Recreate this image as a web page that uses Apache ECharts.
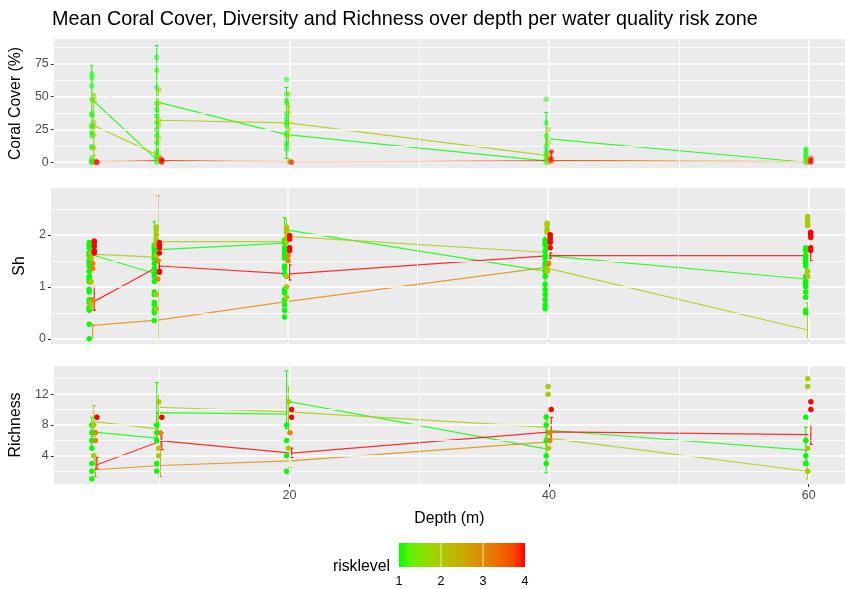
<!DOCTYPE html>
<html><head><meta charset="utf-8">
<script src="https://cdn.jsdelivr.net/npm/echarts@6/dist/echarts.min.js"></script>
<style>html,body{margin:0;padding:0;background:#fff}#c{width:847px;height:589px}</style>
</head><body><div id="c"></div><script>
// ---------------- data ----------------
const depths = [5, 10, 20, 40, 60];
const riskLevels = [1, 2, 3, 4];
const panelTitles = ['Coral Cover (%)', 'Sh', 'Richness'];
const xTicks = [20, 40, 60];
const xMinor = [10, 30, 50];
const coverTicks = [0, 25, 50, 75];
const coverMinor = [12.5, 37.5, 62.5, 87.5];
const shTicks = [0, 1, 2];
const shMinor = [0.5, 1.5, 2.5];
const richTicks = [4, 8, 12];
const richMinor = [2, 6, 10, 14];

// observations per risk level, one list per depth (5,10,20,40,60)
const coverR1 = [[67,64,58,48,37,36,28,27,22,20,12,11,3,1,0,0],[80,70,57,45,40,35,30,25,20,15,8,5,2,0],[63,52,47,45,37,33,30,28,22,20,15,13,10],[48,30,20,12,8,5,2,0],[10,8,6,4,2,0]];
const coverR2 = [[50,47,30,27,21,11,0],[55,45,32,28,18,5,2],[52,42,38,30,25,20],[25,15,5,2,0],[2,1,0]];
const coverR3 = [[1,0],[3,1],[1,0],[2],[1]];
const coverR4 = [[0,0],[2,1,0],[0],[8,3,1],[3,1,0]];

const shR1 = [[1.85,1.8,1.75,1.65,1.6,1.5,1.45,1.4,1.3,1.2,1.15,1.1,0.95,0.9,0.75,0.7,0.6,0.55,0.28,0.0],[1.8,1.75,1.7,1.62,1.55,1.45,1.35,1.25,1.2,1.1,0.9,0.85,0.7,0.65,0.55,0.5,0.35],[1.9,1.85,1.75,1.7,1.65,1.6,1.55,1.4,1.35,1.25,0.95,0.88,0.75,0.65,0.55,0.42],[1.9,1.85,1.8,1.7,1.6,1.55,1.45,1.4,1.3,1.2,1.05,0.95,0.85,0.75,0.65,0.58],[1.75,1.7,1.6,1.55,1.5,1.45,1.4,1.2,1.1,1.05,1.0,0.9,0.8,0.55,0.5]];
const shR2 = [[1.65,1.55,1.1,0.7,0.62],[2.15,2.1,2.0,1.9,1.85,1.8,1.6,0.85,0.58],[2.15,2.1,2.05,1.95,1.85,1.2,1.0,0.8],[2.22,2.18,2.1,2.05,1.35,1.3],[2.35,2.3,2.22,2.18,1.3,1.2]];
const shR3 = [[1.45,1.35,0.75],[1.5,1.15],[1.6,1.5],[1.45],[]];
const shR4 = [[1.88,1.85,1.78,1.7,1.65],[1.85,1.8,1.75,1.65,1.3,1.28],[1.98,1.92,1.75,1.7],[2.0,1.95,1.9,1.85,1.75],[2.05,2.0,1.95,1.75,1.7]];

const richR1 = [[8,7,6,5,3,2,1],[8,7,6,3,2],[8,6,4,2],[9,8,6,4,3],[9,6,4,3,3]];
const richR2 = [[8,4],[11,5,4],[11,5],[13,12,5],[14,13,5,2]];
const richR3 = [[7,6],[7],[7],[7,6],[]];
const richR4 = [[9],[9],[10,9],[10],[11,10]];

// mean-line paths (depth, mean) as drawn, per risk level
const coverLineR1 = [[5,48],[10,2],[10,46],[20,21],[40,1],[40,18],[60,0]];
const coverLineR2 = [[5,28],[10,5],[10,32],[20,30],[40,5],[40,1.5],[60,0.5]];
const coverLineR3 = [[5,0.5],[10,1],[20,0.5],[40,0.5],[60,0.3]];
const coverLineR4 = [[5,0],[10,1],[20,0],[40,1],[60,0]];
const shLineR1 = [[5,1.63],[10,1.26],[10,1.71],[20,1.84],[20,2.1],[40,1.3],[40,1.6],[60,1.15]];
const shLineR2 = [[5,1.63],[10,1.57],[10,1.87],[20,1.87],[20,1.97],[40,1.66],[40,1.36],[60,0.17]];
const shLineR3 = [[5,0.26],[10,0.36],[20,0.72],[40,1.38]];
const shLineR4 = [[5,0.72],[10,1.4],[20,1.25],[40,1.6],[60,1.6]];
const richLineR1 = [[5,7.1],[10,6.3],[10,9.6],[20,9.4],[20,11.1],[40,4.9],[40,7.35],[60,4.75]];
const richLineR2 = [[5,8.45],[10,7.5],[10,10.3],[20,9.7],[40,7.7],[40,6.3],[60,2]];
const richLineR3 = [[5,2.2],[10,2.75],[20,3.35],[40,5.8]];
const richLineR4 = [[5,2.85],[10,5.95],[20,4.35],[40,7.1],[60,6.75]];

// error bars (depth, low, high)
const coverErrR1 = [[5,22,74],[10,3,89],[20,3,57],[40,0,38],[60,0,10]];
const coverErrR2 = [[5,5,52],[10,8,55],[20,15,45],[40,0,22],[60,0,2]];
const coverErrR3 = [[5,0,1.5],[10,0,3],[20,0,1],[40,0,2]];
const coverErrR4 = [[5,0,0.5],[10,0,2],[20,0,0.5],[40,0,8],[60,0,2.5]];
const shErrR1 = [[5,1.15,1.85],[10,1.25,2.25],[20,1.9,2.33],[40,0.8,2.0],[60,0.8,1.5]];
const shErrR2 = [[5,1.05,1.85],[10,1.1,2.1],[20,1.6,2.3],[40,1.0,1.75],[60,0.0,0.69]];
const shErrR3 = [[5,0,0.27],[10,0,2.75],[20,0.5,1.0],[40,1.3,1.5]];
const shErrR4 = [[5,0.55,1.0],[10,1.3,1.5],[20,1.13,1.42],[40,1.55,1.65],[60,1.5,1.7]];
const richErrR1 = [[5,5,9],[10,6,13.5],[20,7.5,15],[40,1.8,9.3],[60,3,7.7]];
const richErrR2 = [[5,6.5,10.5],[10,8,12],[20,7,13],[40,5,10],[60,1,3.5]];
const richErrR3 = [[5,1.3,3.5],[10,1.3,7],[20,2.5,4],[40,5,7]];
const richErrR4 = [[5,2.3,3.8],[10,4.8,7],[20,3.8,5],[40,6,9],[60,5.5,8]];

// ---------------- styling / helpers ----------------
const FONT = '"Liberation Sans", Arial, sans-serif';
const dodge = [-0.22, -0.07, 0.05, 0.17];
function lin(c){c/=255;return c<=0.04045?c/12.92:Math.pow((c+0.055)/1.055,2.4);}
function gam(c){c=c<=0.0031308?12.92*c:1.055*Math.pow(c,1/2.4)-0.055;return Math.max(0,Math.min(255,Math.round(c*255)));}
function toLab(r,g,b){const R=lin(r),G=lin(g),B=lin(b);
  const X=(0.4124*R+0.3576*G+0.1805*B)/0.95047,Y=0.2126*R+0.7152*G+0.0722*B,Z=(0.0193*R+0.1192*G+0.9505*B)/1.08883;
  const f=t=>t>0.008856?Math.cbrt(t):7.787*t+16/116;const fx=f(X),fy=f(Y),fz=f(Z);
  return [116*fy-16,500*(fx-fy),200*(fy-fz)];}
function fromLab(L,a,b){const fy=(L+16)/116,fx=fy+a/500,fz=fy-b/200;
  const g=t=>t*t*t>0.008856?t*t*t:(t-16/116)/7.787;const X=g(fx)*0.95047,Y=g(fy),Z=g(fz)*1.08883;
  const R=3.2406*X-1.5372*Y-0.4986*Z,G=-0.9689*X+1.8758*Y+0.0415*Z,B=0.0557*X-0.2040*Y+1.0570*Z;
  return 'rgb('+gam(R)+','+gam(G)+','+gam(B)+')';}
const labLow=toLab(0,255,0), labHigh=toLab(255,0,0);
function riskColor(v){const t=(v-1)/3;return fromLab(labLow[0]+(labHigh[0]-labLow[0])*t,labLow[1]+(labHigh[1]-labLow[1])*t,labLow[2]+(labHigh[2]-labLow[2])*t);}
const colors = riskLevels.map(riskColor);

const grids = [
  {left:51, top:39, width:794, height:129},
  {left:51, top:188, width:794, height:156},
  {left:51, top:366, width:794, height:118}
];
const yRanges = [[-4.4,93.9],[-0.1,2.9],[0.35,15.65]];
const yTicks = [coverTicks, shTicks, richTicks];
const yMinor = [coverMinor, shMinor, richMinor];
const pts = [[coverR1,coverR2,coverR3,coverR4],[shR1,shR2,shR3,shR4],[richR1,richR2,richR3,richR4]];
const lines = [[coverLineR1,coverLineR2,coverLineR3,coverLineR4],[shLineR1,shLineR2,shLineR3,shLineR4],[richLineR1,richLineR2,richLineR3,richLineR4]];
const errs = [[coverErrR1,coverErrR2,coverErrR3,coverErrR4],[shErrR1,shErrR2,shErrR3,shErrR4],[richErrR1,richErrR2,richErrR3,richErrR4]];
const ptOpacity = [0.5, 1, 1];

const xAxes = [], yAxes = [], series = [];
grids.forEach((g,p)=>{
  xAxes.push({type:'value', gridIndex:p, min:1.85, max:62.8,
    axisLine:{show:false}, splitLine:{show:false},
    axisTick:{show:true, customValues:xTicks, length:3, lineStyle:{color:'#333',width:1}},
    axisLabel:{show:p===2, customValues:xTicks, color:'#4D4D4D', fontSize:12.5, fontFamily:FONT, margin:5},
    name: p===2?'Depth (m)':'', nameLocation:'middle', nameGap:27,
    nameTextStyle:{color:'#000', fontSize:15.8, fontFamily:FONT}});
  yAxes.push({type:'value', gridIndex:p, min:yRanges[p][0], max:yRanges[p][1],
    axisLine:{show:false}, splitLine:{show:false},
    axisTick:{show:true, customValues:yTicks[p], length:3, lineStyle:{color:'#333',width:1}},
    axisLabel:{customValues:yTicks[p], color:'#4D4D4D', fontSize:12.5, fontFamily:FONT, margin:5},
    name:panelTitles[p], nameLocation:'middle', nameGap:21,
    nameTextStyle:{color:'#000', fontSize:15.8, fontFamily:FONT}});
  // grid lines
  const ml = [];
  xMinor.forEach(v=>ml.push({xAxis:v, lineStyle:{width:0.8}}));
  yMinor[p].forEach(v=>ml.push({yAxis:v, lineStyle:{width:0.8}}));
  xTicks.forEach(v=>ml.push({xAxis:v, lineStyle:{width:1.5}}));
  yTicks[p].forEach(v=>ml.push({yAxis:v, lineStyle:{width:1.5}}));
  series.push({type:'line', xAxisIndex:p, yAxisIndex:p, data:[], z:1, silent:true,
    markLine:{silent:true, symbol:'none', label:{show:false}, animation:false,
      lineStyle:{color:'#FFFFFF', type:'solid'}, emphasis:{disabled:true}, data:ml}});
  riskLevels.forEach((r,ri)=>{
    const col = colors[ri];
    // error bars
    series.push({type:'custom', xAxisIndex:p, yAxisIndex:p, z:3, clip:true, silent:true,
      data: errs[p][ri].map(e=>[e[0]+dodge[ri], e[1], e[2]]),
      encode:{x:0, y:[1,2]},
      renderItem:(params, api)=>{
        const x=api.value(0), a=api.coord([x,api.value(2)]), b=api.coord([x,api.value(1)]);
        const st={stroke:col, lineWidth:1};
        return {type:'group', children:[
          {type:'line', shape:{x1:a[0],y1:a[1],x2:b[0],y2:b[1]}, style:st},
          {type:'line', shape:{x1:a[0]-2,y1:a[1],x2:a[0]+2,y2:a[1]}, style:st},
          {type:'line', shape:{x1:b[0]-2,y1:b[1],x2:b[0]+2,y2:b[1]}, style:st}]};
      }});
    // mean lines
    series.push({type:'line', xAxisIndex:p, yAxisIndex:p, z:4, silent:true,
      data: lines[p][ri].map(d=>[d[0]+dodge[ri], d[1]]),
      showSymbol:false, symbol:'none', smooth:false,
      lineStyle:{color:col, width:1.2, opacity:0.8}});
    // points
    const data=[];
    depths.forEach((d,di)=>{(pts[p][ri][di]||[]).forEach(v=>data.push([d+dodge[ri], v]));});
    series.push({type:'scatter', xAxisIndex:p, yAxisIndex:p, z:5, silent:true,
      data, symbol:'circle', symbolSize:5.5,
      itemStyle:{color:col, opacity:ptOpacity[p]}});
  });
});

// colour bar legend
const barX=399, barY=543, barW=126, barH=24;
const stops=[];
for(let i=0;i<=12;i++){stops.push({offset:i/12, color:riskColor(1+3*i/12)});}
const graphics=[
  {type:'rect', shape:{x:barX,y:barY,width:barW,height:barH},
   style:{fill:new echarts.graphic.LinearGradient(0,0,1,0,stops)}},
  {type:'text', style:{text:'risklevel', x:390, y:567, fill:'#000', font:'15.8px '+FONT, textAlign:'right', textVerticalAlign:'middle'}}
];
riskLevels.forEach((r,i)=>{
  const x=barX+barW*(r-1)/3;
  if(i>0&&i<3) graphics.push({type:'line', shape:{x1:x,y1:barY,x2:x,y2:barY+barH}, style:{stroke:'rgba(255,255,255,0.7)', lineWidth:1}});
  graphics.push({type:'text', style:{text:String(r), x:x, y:582, fill:'#000', font:'12.5px '+FONT, textAlign:'center', textVerticalAlign:'middle'}});
});

const chart = echarts.init(document.getElementById('c'), null, {renderer:'canvas'});
chart.setOption({
  animation:false,
  backgroundColor:'#FFFFFF',
  title:{text:'Mean Coral Cover, Diversity and Richness over depth per water quality risk zone',
    left:52, top:10, padding:0, textStyle:{color:'#000', fontSize:19.8, fontWeight:'normal', fontFamily:FONT}},
  grid: grids.map(g=>Object.assign({show:true, backgroundColor:'#EBEBEB', borderWidth:0}, g)),
  xAxis:xAxes, yAxis:yAxes, series, graphic:graphics
});
</script></body></html>
